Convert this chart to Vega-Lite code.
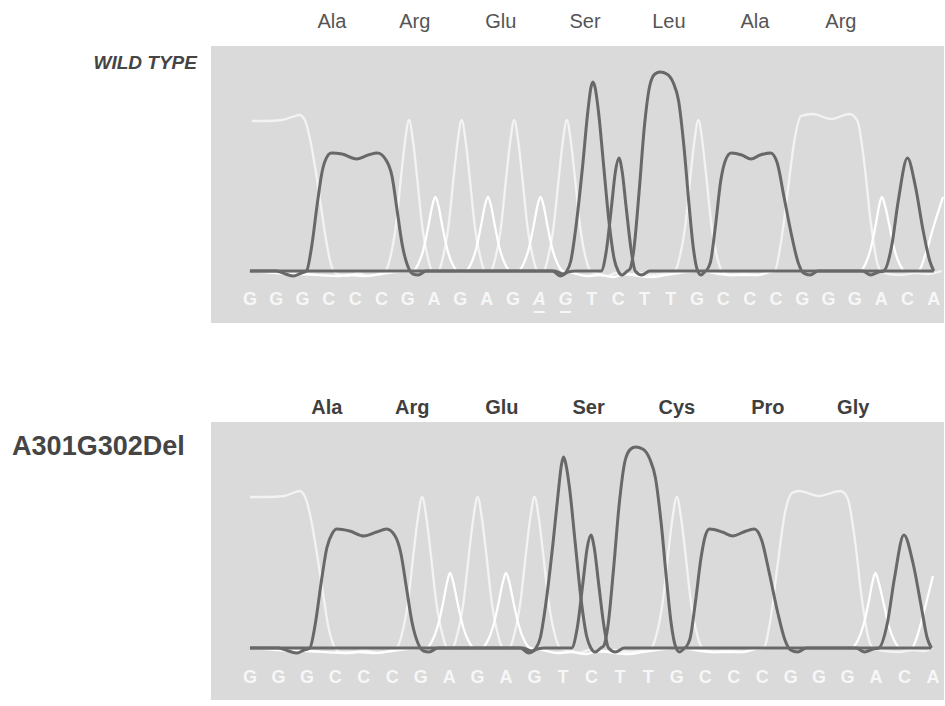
{
  "$schema": "https://vega.github.io/schema/vega-lite/v6.json",
  "autosize": {"type": "pad"},
  "padding": {"left": 12, "top": 12, "right": 0, "bottom": 6},
  "background": "#ffffff",
  "bounds": "flush",
  "spacing": 99,
  "config": {"view": {"fill": "#dadada", "stroke": null}, "font": "Liberation Sans"},
  "datasets": {
    "wt_traces": [
      {"base":"G","pos":0.08,"signal":150},{"base":"G","pos":0.6,"signal":150},{"base":"G","pos":1.2,"signal":151},{"base":"G","pos":1.6,"signal":154},{"base":"G","pos":1.9,"signal":156},{"base":"G","pos":2.1,"signal":150},{"base":"G","pos":2.3,"signal":130},{"base":"G","pos":2.5,"signal":100},{"base":"G","pos":2.7,"signal":65},{"base":"G","pos":2.9,"signal":30},{"base":"G","pos":3.1,"signal":5},{"base":"G","pos":3.3,"signal":-3},{"base":"G","pos":3.7,"signal":-5},{"base":"G","pos":4.1,"signal":-2},{"base":"G","pos":4.5,"signal":-5},{"base":"G","pos":4.9,"signal":-3},
      {"base":"G","pos":5.15,"signal":0},{"base":"G","pos":5.35,"signal":15},{"base":"G","pos":5.55,"signal":45},{"base":"G","pos":5.75,"signal":95},{"base":"G","pos":5.9,"signal":130},{"base":"G","pos":6.05,"signal":151},{"base":"G","pos":6.2,"signal":130},{"base":"G","pos":6.35,"signal":95},{"base":"G","pos":6.55,"signal":45},{"base":"G","pos":6.75,"signal":15},{"base":"G","pos":6.95,"signal":0},
      {"base":"G","pos":7.15,"signal":0},{"base":"G","pos":7.35,"signal":15},{"base":"G","pos":7.55,"signal":45},{"base":"G","pos":7.75,"signal":95},{"base":"G","pos":7.9,"signal":130},{"base":"G","pos":8.05,"signal":151},{"base":"G","pos":8.2,"signal":130},{"base":"G","pos":8.35,"signal":95},{"base":"G","pos":8.55,"signal":45},{"base":"G","pos":8.75,"signal":15},{"base":"G","pos":8.95,"signal":0},
      {"base":"G","pos":9.15,"signal":0},{"base":"G","pos":9.35,"signal":15},{"base":"G","pos":9.55,"signal":45},{"base":"G","pos":9.75,"signal":95},{"base":"G","pos":9.9,"signal":130},{"base":"G","pos":10.05,"signal":151},{"base":"G","pos":10.2,"signal":130},{"base":"G","pos":10.35,"signal":95},{"base":"G","pos":10.55,"signal":45},{"base":"G","pos":10.75,"signal":15},{"base":"G","pos":10.95,"signal":0},
      {"base":"G","pos":11.15,"signal":0},{"base":"G","pos":11.35,"signal":15},{"base":"G","pos":11.55,"signal":45},{"base":"G","pos":11.75,"signal":95},{"base":"G","pos":11.9,"signal":130},{"base":"G","pos":12.05,"signal":151},{"base":"G","pos":12.2,"signal":130},{"base":"G","pos":12.35,"signal":95},{"base":"G","pos":12.55,"signal":45},{"base":"G","pos":12.75,"signal":15},{"base":"G","pos":12.95,"signal":0},
      {"base":"G","pos":13.3,"signal":-3},{"base":"G","pos":13.6,"signal":-5},{"base":"G","pos":13.9,"signal":-2},{"base":"G","pos":14.3,"signal":-4},{"base":"G","pos":14.8,"signal":-2},{"base":"G","pos":15.3,"signal":-4},{"base":"G","pos":15.8,"signal":-2},{"base":"G","pos":16.15,"signal":0},
      {"base":"G","pos":16.35,"signal":15},{"base":"G","pos":16.55,"signal":45},{"base":"G","pos":16.75,"signal":95},{"base":"G","pos":16.9,"signal":130},{"base":"G","pos":17.05,"signal":151},{"base":"G","pos":17.2,"signal":130},{"base":"G","pos":17.35,"signal":95},{"base":"G","pos":17.55,"signal":45},{"base":"G","pos":17.75,"signal":15},{"base":"G","pos":17.95,"signal":0},
      {"base":"G","pos":18.3,"signal":-4},{"base":"G","pos":18.8,"signal":-3},{"base":"G","pos":19.3,"signal":-4},{"base":"G","pos":19.7,"signal":-1},{"base":"G","pos":19.95,"signal":0},
      {"base":"G","pos":20.2,"signal":30},{"base":"G","pos":20.45,"signal":80},{"base":"G","pos":20.7,"signal":130},{"base":"G","pos":20.95,"signal":155},{"base":"G","pos":21.4,"signal":157},{"base":"G","pos":22.1,"signal":152},{"base":"G","pos":22.8,"signal":157},{"base":"G","pos":23.1,"signal":150},{"base":"G","pos":23.35,"signal":110},{"base":"G","pos":23.6,"signal":50},{"base":"G","pos":23.85,"signal":8},{"base":"G","pos":24.0,"signal":0},{"base":"G","pos":24.3,"signal":-3},{"base":"G","pos":24.8,"signal":-4},{"base":"G","pos":25.3,"signal":-2},{"base":"G","pos":25.8,"signal":-3},{"base":"G","pos":26.3,"signal":0},

      {"base":"A","pos":0.0,"signal":0},{"base":"A","pos":1.0,"signal":-2},{"base":"A","pos":2.0,"signal":-3},{"base":"A","pos":3.3,"signal":-5},{"base":"A","pos":3.8,"signal":-4},{"base":"A","pos":4.4,"signal":-5},{"base":"A","pos":5.0,"signal":-3},{"base":"A","pos":5.5,"signal":-1},{"base":"A","pos":6.2,"signal":0},
      {"base":"A","pos":6.4,"signal":7},{"base":"A","pos":6.6,"signal":22},{"base":"A","pos":6.8,"signal":47},{"base":"A","pos":6.93,"signal":65},{"base":"A","pos":7.05,"signal":74},{"base":"A","pos":7.17,"signal":65},{"base":"A","pos":7.3,"signal":47},{"base":"A","pos":7.5,"signal":22},{"base":"A","pos":7.7,"signal":7},{"base":"A","pos":7.9,"signal":0},
      {"base":"A","pos":8.2,"signal":0},{"base":"A","pos":8.4,"signal":7},{"base":"A","pos":8.6,"signal":22},{"base":"A","pos":8.8,"signal":47},{"base":"A","pos":8.93,"signal":65},{"base":"A","pos":9.05,"signal":74},{"base":"A","pos":9.17,"signal":65},{"base":"A","pos":9.3,"signal":47},{"base":"A","pos":9.5,"signal":22},{"base":"A","pos":9.7,"signal":7},{"base":"A","pos":9.9,"signal":0},
      {"base":"A","pos":10.2,"signal":0},{"base":"A","pos":10.4,"signal":7},{"base":"A","pos":10.6,"signal":22},{"base":"A","pos":10.8,"signal":47},{"base":"A","pos":10.93,"signal":65},{"base":"A","pos":11.05,"signal":74},{"base":"A","pos":11.17,"signal":65},{"base":"A","pos":11.3,"signal":47},{"base":"A","pos":11.5,"signal":22},{"base":"A","pos":11.7,"signal":7},{"base":"A","pos":11.9,"signal":0},
      {"base":"A","pos":12.3,"signal":-2},{"base":"A","pos":12.8,"signal":-5},{"base":"A","pos":13.3,"signal":-4},{"base":"A","pos":13.8,"signal":-6},{"base":"A","pos":14.3,"signal":-3},{"base":"A","pos":14.8,"signal":-5},{"base":"A","pos":15.3,"signal":-6},{"base":"A","pos":15.8,"signal":-4},{"base":"A","pos":16.3,"signal":-2},{"base":"A","pos":17.0,"signal":0},{"base":"A","pos":18.3,"signal":-4},{"base":"A","pos":19.3,"signal":-4},{"base":"A","pos":20.0,"signal":0},{"base":"A","pos":22.0,"signal":0},
      {"base":"A","pos":23.2,"signal":0},{"base":"A","pos":23.4,"signal":7},{"base":"A","pos":23.6,"signal":22},{"base":"A","pos":23.8,"signal":47},{"base":"A","pos":23.92,"signal":65},{"base":"A","pos":24.03,"signal":74},{"base":"A","pos":24.15,"signal":65},{"base":"A","pos":24.3,"signal":47},{"base":"A","pos":24.5,"signal":22},{"base":"A","pos":24.7,"signal":7},{"base":"A","pos":24.9,"signal":0},
      {"base":"A","pos":25.4,"signal":0},{"base":"A","pos":25.7,"signal":18},{"base":"A","pos":26.0,"signal":45},{"base":"A","pos":26.35,"signal":74},

      {"base":"C","pos":0.0,"signal":0},{"base":"C","pos":1.0,"signal":0},{"base":"C","pos":1.35,"signal":-3},{"base":"C","pos":1.65,"signal":-5},{"base":"C","pos":1.95,"signal":-2},{"base":"C","pos":2.15,"signal":0},{"base":"C","pos":2.35,"signal":25},{"base":"C","pos":2.55,"signal":65},{"base":"C","pos":2.75,"signal":100},{"base":"C","pos":2.95,"signal":115},{"base":"C","pos":3.1,"signal":118},{"base":"C","pos":3.5,"signal":117},{"base":"C","pos":4.05,"signal":112},{"base":"C","pos":4.5,"signal":116},{"base":"C","pos":4.85,"signal":118},{"base":"C","pos":5.15,"signal":112},{"base":"C","pos":5.4,"signal":95},{"base":"C","pos":5.6,"signal":60},{"base":"C","pos":5.8,"signal":25},{"base":"C","pos":6.0,"signal":5},{"base":"C","pos":6.2,"signal":-3},{"base":"C","pos":6.4,"signal":-4},{"base":"C","pos":6.7,"signal":0},
      {"base":"C","pos":11.5,"signal":0},{"base":"C","pos":11.8,"signal":-5},{"base":"C","pos":12.1,"signal":-1},{"base":"C","pos":12.4,"signal":0},{"base":"C","pos":13.35,"signal":0},{"base":"C","pos":13.55,"signal":20},{"base":"C","pos":13.75,"signal":65},{"base":"C","pos":13.9,"signal":100},{"base":"C","pos":14.03,"signal":113},{"base":"C","pos":14.15,"signal":100},{"base":"C","pos":14.3,"signal":65},{"base":"C","pos":14.5,"signal":20},{"base":"C","pos":14.65,"signal":0},{"base":"C","pos":14.9,"signal":-4},{"base":"C","pos":15.2,"signal":0},
      {"base":"C","pos":17.3,"signal":0},{"base":"C","pos":17.5,"signal":8},{"base":"C","pos":17.7,"signal":45},{"base":"C","pos":17.9,"signal":90},{"base":"C","pos":18.1,"signal":112},{"base":"C","pos":18.3,"signal":118},{"base":"C","pos":18.7,"signal":116},{"base":"C","pos":19.05,"signal":112},{"base":"C","pos":19.4,"signal":116},{"base":"C","pos":19.8,"signal":118},{"base":"C","pos":20.05,"signal":108},{"base":"C","pos":20.3,"signal":75},{"base":"C","pos":20.6,"signal":35},{"base":"C","pos":20.85,"signal":8},{"base":"C","pos":21.05,"signal":-2},{"base":"C","pos":21.3,"signal":-4},{"base":"C","pos":21.6,"signal":0},
      {"base":"C","pos":23.3,"signal":0},{"base":"C","pos":23.6,"signal":-4},{"base":"C","pos":23.9,"signal":-1},{"base":"C","pos":24.1,"signal":0},{"base":"C","pos":24.4,"signal":25},{"base":"C","pos":24.65,"signal":70},{"base":"C","pos":25.0,"signal":113},{"base":"C","pos":25.3,"signal":85},{"base":"C","pos":25.6,"signal":40},{"base":"C","pos":25.85,"signal":10},{"base":"C","pos":26.0,"signal":0},

      {"base":"T","pos":0.0,"signal":0},{"base":"T","pos":11.6,"signal":0},{"base":"T","pos":11.9,"signal":-3},{"base":"T","pos":12.05,"signal":0},{"base":"T","pos":12.2,"signal":10},{"base":"T","pos":12.4,"signal":45},{"base":"T","pos":12.65,"signal":105},{"base":"T","pos":12.85,"signal":160},{"base":"T","pos":12.97,"signal":184},{"base":"T","pos":13.04,"signal":189},{"base":"T","pos":13.12,"signal":184},{"base":"T","pos":13.25,"signal":160},{"base":"T","pos":13.45,"signal":105},{"base":"T","pos":13.65,"signal":50},{"base":"T","pos":13.85,"signal":12},{"base":"T","pos":14.0,"signal":0},{"base":"T","pos":14.15,"signal":-4},{"base":"T","pos":14.35,"signal":0},
      {"base":"T","pos":14.45,"signal":2},{"base":"T","pos":14.6,"signal":22},{"base":"T","pos":14.8,"signal":80},{"base":"T","pos":15.0,"signal":145},{"base":"T","pos":15.2,"signal":185},{"base":"T","pos":15.4,"signal":197},{"base":"T","pos":15.6,"signal":199},{"base":"T","pos":15.85,"signal":197},{"base":"T","pos":16.1,"signal":188},{"base":"T","pos":16.3,"signal":170},{"base":"T","pos":16.5,"signal":125},{"base":"T","pos":16.7,"signal":65},{"base":"T","pos":16.85,"signal":25},{"base":"T","pos":17.0,"signal":2},{"base":"T","pos":17.15,"signal":-4},{"base":"T","pos":17.35,"signal":0},{"base":"T","pos":26.0,"signal":0}
    ],
    "mut_traces": [
      {"base":"G","pos":0.0,"signal":151},{"base":"G","pos":0.6,"signal":151},{"base":"G","pos":1.2,"signal":152},{"base":"G","pos":1.5,"signal":155},{"base":"G","pos":1.75,"signal":157},{"base":"G","pos":1.95,"signal":150},{"base":"G","pos":2.15,"signal":128},{"base":"G","pos":2.35,"signal":95},{"base":"G","pos":2.55,"signal":58},{"base":"G","pos":2.75,"signal":22},{"base":"G","pos":2.95,"signal":2},{"base":"G","pos":3.15,"signal":-4},{"base":"G","pos":3.6,"signal":-5},{"base":"G","pos":4.0,"signal":-2},{"base":"G","pos":4.5,"signal":-5},{"base":"G","pos":4.9,"signal":-3},
      {"base":"G","pos":5.15,"signal":0},{"base":"G","pos":5.35,"signal":15},{"base":"G","pos":5.55,"signal":45},{"base":"G","pos":5.75,"signal":95},{"base":"G","pos":5.9,"signal":130},{"base":"G","pos":6.05,"signal":151},{"base":"G","pos":6.2,"signal":130},{"base":"G","pos":6.35,"signal":95},{"base":"G","pos":6.55,"signal":45},{"base":"G","pos":6.75,"signal":15},{"base":"G","pos":6.95,"signal":0},
      {"base":"G","pos":7.1,"signal":0},{"base":"G","pos":7.3,"signal":15},{"base":"G","pos":7.5,"signal":45},{"base":"G","pos":7.7,"signal":95},{"base":"G","pos":7.85,"signal":130},{"base":"G","pos":8.0,"signal":151},{"base":"G","pos":8.15,"signal":130},{"base":"G","pos":8.3,"signal":95},{"base":"G","pos":8.5,"signal":45},{"base":"G","pos":8.7,"signal":15},{"base":"G","pos":8.9,"signal":0},
      {"base":"G","pos":9.1,"signal":0},{"base":"G","pos":9.3,"signal":15},{"base":"G","pos":9.5,"signal":45},{"base":"G","pos":9.7,"signal":95},{"base":"G","pos":9.85,"signal":130},{"base":"G","pos":10.0,"signal":151},{"base":"G","pos":10.15,"signal":130},{"base":"G","pos":10.3,"signal":95},{"base":"G","pos":10.5,"signal":45},{"base":"G","pos":10.7,"signal":15},{"base":"G","pos":10.9,"signal":0},
      {"base":"G","pos":11.3,"signal":-3},{"base":"G","pos":11.6,"signal":-5},{"base":"G","pos":11.9,"signal":-2},{"base":"G","pos":12.3,"signal":-4},{"base":"G","pos":12.8,"signal":-2},{"base":"G","pos":13.3,"signal":-4},{"base":"G","pos":13.8,"signal":-2},{"base":"G","pos":14.1,"signal":0},
      {"base":"G","pos":14.3,"signal":15},{"base":"G","pos":14.5,"signal":45},{"base":"G","pos":14.7,"signal":95},{"base":"G","pos":14.85,"signal":130},{"base":"G","pos":15.0,"signal":151},{"base":"G","pos":15.15,"signal":130},{"base":"G","pos":15.3,"signal":95},{"base":"G","pos":15.5,"signal":45},{"base":"G","pos":15.7,"signal":15},{"base":"G","pos":15.9,"signal":0},
      {"base":"G","pos":16.3,"signal":-4},{"base":"G","pos":16.8,"signal":-3},{"base":"G","pos":17.3,"signal":-4},{"base":"G","pos":17.7,"signal":-1},{"base":"G","pos":18.05,"signal":0},
      {"base":"G","pos":18.3,"signal":30},{"base":"G","pos":18.55,"signal":85},{"base":"G","pos":18.8,"signal":135},{"base":"G","pos":19.05,"signal":155},{"base":"G","pos":19.3,"signal":157},{"base":"G","pos":20.0,"signal":152},{"base":"G","pos":20.75,"signal":157},{"base":"G","pos":21.0,"signal":150},{"base":"G","pos":21.25,"signal":110},{"base":"G","pos":21.5,"signal":50},{"base":"G","pos":21.75,"signal":8},{"base":"G","pos":21.9,"signal":0},{"base":"G","pos":22.3,"signal":-3},{"base":"G","pos":22.8,"signal":-4},{"base":"G","pos":23.3,"signal":-2},{"base":"G","pos":23.7,"signal":-3},{"base":"G","pos":24.0,"signal":0},

      {"base":"A","pos":0.0,"signal":0},{"base":"A","pos":1.0,"signal":-2},{"base":"A","pos":2.0,"signal":-3},{"base":"A","pos":3.3,"signal":-5},{"base":"A","pos":3.8,"signal":-4},{"base":"A","pos":4.4,"signal":-5},{"base":"A","pos":5.0,"signal":-3},{"base":"A","pos":5.5,"signal":-1},{"base":"A","pos":6.2,"signal":0},
      {"base":"A","pos":6.4,"signal":7},{"base":"A","pos":6.6,"signal":22},{"base":"A","pos":6.8,"signal":47},{"base":"A","pos":6.92,"signal":65},{"base":"A","pos":7.03,"signal":75},{"base":"A","pos":7.15,"signal":65},{"base":"A","pos":7.28,"signal":47},{"base":"A","pos":7.48,"signal":22},{"base":"A","pos":7.68,"signal":7},{"base":"A","pos":7.88,"signal":0},
      {"base":"A","pos":8.15,"signal":0},{"base":"A","pos":8.35,"signal":7},{"base":"A","pos":8.55,"signal":22},{"base":"A","pos":8.75,"signal":47},{"base":"A","pos":8.88,"signal":65},{"base":"A","pos":9.0,"signal":75},{"base":"A","pos":9.12,"signal":65},{"base":"A","pos":9.25,"signal":47},{"base":"A","pos":9.45,"signal":22},{"base":"A","pos":9.65,"signal":7},{"base":"A","pos":9.85,"signal":0},
      {"base":"A","pos":10.3,"signal":-2},{"base":"A","pos":10.8,"signal":-5},{"base":"A","pos":11.3,"signal":-4},{"base":"A","pos":11.8,"signal":-6},{"base":"A","pos":12.3,"signal":-3},{"base":"A","pos":12.8,"signal":-5},{"base":"A","pos":13.3,"signal":-6},{"base":"A","pos":13.8,"signal":-4},{"base":"A","pos":14.3,"signal":-2},{"base":"A","pos":15.0,"signal":0},{"base":"A","pos":16.3,"signal":-4},{"base":"A","pos":17.3,"signal":-4},{"base":"A","pos":18.0,"signal":0},
      {"base":"A","pos":21.15,"signal":0},{"base":"A","pos":21.35,"signal":7},{"base":"A","pos":21.55,"signal":22},{"base":"A","pos":21.75,"signal":47},{"base":"A","pos":21.87,"signal":65},{"base":"A","pos":21.98,"signal":75},{"base":"A","pos":22.1,"signal":65},{"base":"A","pos":22.25,"signal":47},{"base":"A","pos":22.45,"signal":22},{"base":"A","pos":22.65,"signal":7},{"base":"A","pos":22.85,"signal":0},
      {"base":"A","pos":23.25,"signal":0},{"base":"A","pos":23.45,"signal":12},{"base":"A","pos":23.7,"signal":38},{"base":"A","pos":24.0,"signal":72},

      {"base":"C","pos":0.0,"signal":0},{"base":"C","pos":1.0,"signal":0},{"base":"C","pos":1.35,"signal":-3},{"base":"C","pos":1.65,"signal":-5},{"base":"C","pos":1.9,"signal":-2},{"base":"C","pos":2.1,"signal":0},{"base":"C","pos":2.3,"signal":25},{"base":"C","pos":2.5,"signal":65},{"base":"C","pos":2.7,"signal":100},{"base":"C","pos":2.9,"signal":115},{"base":"C","pos":3.05,"signal":119},{"base":"C","pos":3.5,"signal":117},{"base":"C","pos":4.0,"signal":112},{"base":"C","pos":4.45,"signal":116},{"base":"C","pos":4.8,"signal":119},{"base":"C","pos":5.1,"signal":112},{"base":"C","pos":5.3,"signal":95},{"base":"C","pos":5.5,"signal":60},{"base":"C","pos":5.7,"signal":25},{"base":"C","pos":5.9,"signal":5},{"base":"C","pos":6.1,"signal":-3},{"base":"C","pos":6.3,"signal":-4},{"base":"C","pos":6.6,"signal":0},
      {"base":"C","pos":9.5,"signal":0},{"base":"C","pos":9.8,"signal":-5},{"base":"C","pos":10.1,"signal":-1},{"base":"C","pos":10.4,"signal":0},{"base":"C","pos":11.3,"signal":0},{"base":"C","pos":11.5,"signal":20},{"base":"C","pos":11.7,"signal":65},{"base":"C","pos":11.85,"signal":100},{"base":"C","pos":11.98,"signal":113},{"base":"C","pos":12.1,"signal":100},{"base":"C","pos":12.25,"signal":65},{"base":"C","pos":12.45,"signal":20},{"base":"C","pos":12.6,"signal":0},{"base":"C","pos":12.85,"signal":-4},{"base":"C","pos":13.15,"signal":0},
      {"base":"C","pos":15.25,"signal":0},{"base":"C","pos":15.45,"signal":8},{"base":"C","pos":15.65,"signal":45},{"base":"C","pos":15.85,"signal":90},{"base":"C","pos":16.0,"signal":112},{"base":"C","pos":16.15,"signal":119},{"base":"C","pos":16.6,"signal":116},{"base":"C","pos":16.97,"signal":112},{"base":"C","pos":17.35,"signal":116},{"base":"C","pos":17.72,"signal":119},{"base":"C","pos":17.98,"signal":108},{"base":"C","pos":18.25,"signal":75},{"base":"C","pos":18.55,"signal":35},{"base":"C","pos":18.8,"signal":8},{"base":"C","pos":19.0,"signal":-2},{"base":"C","pos":19.25,"signal":-4},{"base":"C","pos":19.55,"signal":0},
      {"base":"C","pos":21.3,"signal":0},{"base":"C","pos":21.6,"signal":-4},{"base":"C","pos":21.9,"signal":-1},{"base":"C","pos":22.1,"signal":0},{"base":"C","pos":22.4,"signal":25},{"base":"C","pos":22.65,"signal":70},{"base":"C","pos":22.98,"signal":113},{"base":"C","pos":23.3,"signal":85},{"base":"C","pos":23.6,"signal":40},{"base":"C","pos":23.8,"signal":10},{"base":"C","pos":23.95,"signal":0},

      {"base":"T","pos":0.0,"signal":0},{"base":"T","pos":9.6,"signal":0},{"base":"T","pos":9.9,"signal":-3},{"base":"T","pos":10.05,"signal":0},{"base":"T","pos":10.2,"signal":10},{"base":"T","pos":10.4,"signal":45},{"base":"T","pos":10.65,"signal":105},{"base":"T","pos":10.85,"signal":160},{"base":"T","pos":10.95,"signal":184},{"base":"T","pos":11.02,"signal":191},{"base":"T","pos":11.1,"signal":184},{"base":"T","pos":11.23,"signal":160},{"base":"T","pos":11.43,"signal":105},{"base":"T","pos":11.63,"signal":50},{"base":"T","pos":11.83,"signal":12},{"base":"T","pos":11.98,"signal":0},{"base":"T","pos":12.13,"signal":-4},{"base":"T","pos":12.33,"signal":0},
      {"base":"T","pos":12.43,"signal":2},{"base":"T","pos":12.58,"signal":22},{"base":"T","pos":12.78,"signal":80},{"base":"T","pos":12.98,"signal":145},{"base":"T","pos":13.18,"signal":187},{"base":"T","pos":13.38,"signal":199},{"base":"T","pos":13.55,"signal":201},{"base":"T","pos":13.8,"signal":199},{"base":"T","pos":14.05,"signal":189},{"base":"T","pos":14.25,"signal":170},{"base":"T","pos":14.45,"signal":125},{"base":"T","pos":14.65,"signal":65},{"base":"T","pos":14.8,"signal":25},{"base":"T","pos":14.95,"signal":2},{"base":"T","pos":15.1,"signal":-4},{"base":"T","pos":15.3,"signal":0},{"base":"T","pos":23.95,"signal":0}
    ],
    "wt_seq": [
      {"pos":0,"nt":"G","deleted":false},{"pos":1,"nt":"G","deleted":false},{"pos":2,"nt":"G","deleted":false},{"pos":3,"nt":"C","deleted":false},{"pos":4,"nt":"C","deleted":false},{"pos":5,"nt":"C","deleted":false},{"pos":6,"nt":"G","deleted":false},{"pos":7,"nt":"A","deleted":false},{"pos":8,"nt":"G","deleted":false},{"pos":9,"nt":"A","deleted":false},{"pos":10,"nt":"G","deleted":false},{"pos":11,"nt":"A","deleted":true},{"pos":12,"nt":"G","deleted":true},{"pos":13,"nt":"T","deleted":false},{"pos":14,"nt":"C","deleted":false},{"pos":15,"nt":"T","deleted":false},{"pos":16,"nt":"T","deleted":false},{"pos":17,"nt":"G","deleted":false},{"pos":18,"nt":"C","deleted":false},{"pos":19,"nt":"C","deleted":false},{"pos":20,"nt":"C","deleted":false},{"pos":21,"nt":"G","deleted":false},{"pos":22,"nt":"G","deleted":false},{"pos":23,"nt":"G","deleted":false},{"pos":24,"nt":"A","deleted":false},{"pos":25,"nt":"C","deleted":false},{"pos":26,"nt":"A","deleted":false}
    ],
    "mut_seq": [
      {"pos":0,"nt":"G"},{"pos":1,"nt":"G"},{"pos":2,"nt":"G"},{"pos":3,"nt":"C"},{"pos":4,"nt":"C"},{"pos":5,"nt":"C"},{"pos":6,"nt":"G"},{"pos":7,"nt":"A"},{"pos":8,"nt":"G"},{"pos":9,"nt":"A"},{"pos":10,"nt":"G"},{"pos":11,"nt":"T"},{"pos":12,"nt":"C"},{"pos":13,"nt":"T"},{"pos":14,"nt":"T"},{"pos":15,"nt":"G"},{"pos":16,"nt":"C"},{"pos":17,"nt":"C"},{"pos":18,"nt":"C"},{"pos":19,"nt":"G"},{"pos":20,"nt":"G"},{"pos":21,"nt":"G"},{"pos":22,"nt":"A"},{"pos":23,"nt":"C"},{"pos":24,"nt":"A"}
    ],
    "wt_aa": [
      {"pos":3.12,"aa":"Ala"},{"pos":6.27,"aa":"Arg"},{"pos":9.54,"aa":"Glu"},{"pos":12.74,"aa":"Ser"},{"pos":15.93,"aa":"Leu"},{"pos":19.2,"aa":"Ala"},{"pos":22.47,"aa":"Arg"}
    ],
    "mut_aa": [
      {"pos":2.7,"aa":"Ala"},{"pos":5.7,"aa":"Arg"},{"pos":8.85,"aa":"Glu"},{"pos":11.9,"aa":"Ser"},{"pos":15.0,"aa":"Cys"},{"pos":18.2,"aa":"Pro"},{"pos":21.2,"aa":"Gly"}
    ],
    "wt_label": [{"sample": "WILD TYPE"}],
    "mut_label": [{"sample": "A301G302Del"}]
  },
  "vconcat": [
    {
      "width": 733,
      "height": 277,
      "layer": [
        {
          "data": {"name": "wt_traces"},
          "transform": [{"filter": "datum.base === 'G' || datum.base === 'A'"}],
          "mark": {"type": "line", "interpolate": "monotone", "strokeWidth": 2.3},
          "encoding": {
            "x": {"field": "pos", "type": "quantitative", "scale": {"domain": [-1.48, 26.39], "nice": false, "zero": false}, "axis": null},
            "y": {"field": "signal", "type": "quantitative", "scale": {"domain": [-52, 225], "nice": false, "zero": false}, "axis": null},
            "color": {"field": "base", "type": "nominal", "scale": {"domain": ["A", "C", "G", "T"], "range": ["#ffffff", "#686868", "#f3f3f3", "#686868"]}, "legend": null}
          }
        },
        {
          "data": {"name": "wt_traces"},
          "transform": [{"filter": "datum.base === 'C' || datum.base === 'T'"}],
          "mark": {"type": "line", "interpolate": "monotone", "strokeWidth": 3},
          "encoding": {
            "x": {"field": "pos", "type": "quantitative"},
            "y": {"field": "signal", "type": "quantitative", "axis": null},
            "color": {"field": "base", "type": "nominal", "legend": null}
          }
        },
        {
          "data": {"name": "wt_seq"},
          "transform": [{"filter": "!datum.deleted"}],
          "mark": {"type": "text", "font": "Liberation Sans", "fontWeight": "bold", "fontSize": 18, "color": "#f7f7f7", "baseline": "middle"},
          "encoding": {
            "x": {"field": "pos", "type": "quantitative"},
            "y": {"datum": -29, "type": "quantitative"},
            "text": {"field": "nt"}
          }
        },
        {
          "data": {"name": "wt_seq"},
          "transform": [{"filter": "datum.deleted"}],
          "mark": {"type": "text", "font": "Liberation Sans", "fontWeight": "bold", "fontStyle": "italic", "fontSize": 18, "color": "#f7f7f7", "baseline": "middle"},
          "encoding": {
            "x": {"field": "pos", "type": "quantitative"},
            "y": {"datum": -29, "type": "quantitative"},
            "text": {"field": "nt"}
          }
        },
        {
          "data": {"name": "wt_seq"},
          "transform": [{"filter": "datum.deleted"}],
          "mark": {"type": "tick", "orient": "horizontal", "size": 11, "thickness": 2, "color": "#f7f7f7", "opacity": 1},
          "encoding": {
            "x": {"field": "pos", "type": "quantitative"},
            "y": {"datum": -41, "type": "quantitative"}
          }
        },
        {
          "data": {"name": "wt_aa"},
          "mark": {"type": "text", "font": "Liberation Sans", "fontSize": 20, "color": "#555555", "baseline": "middle"},
          "encoding": {
            "x": {"field": "pos", "type": "quantitative"},
            "y": {"datum": 249, "type": "quantitative"},
            "text": {"field": "aa"}
          }
        },
        {
          "data": {"name": "wt_label"},
          "mark": {"type": "text", "font": "Liberation Sans", "fontSize": 19, "fontWeight": "bold", "fontStyle": "italic", "color": "#454545", "align": "right", "baseline": "middle"},
          "encoding": {
            "x": {"datum": -2.015, "type": "quantitative"},
            "y": {"datum": 208, "type": "quantitative"},
            "text": {"field": "sample"}
          }
        }
      ]
    },
    {
      "width": 733,
      "height": 278,
      "layer": [
        {
          "data": {"name": "mut_traces"},
          "transform": [{"filter": "datum.base === 'G' || datum.base === 'A'"}],
          "mark": {"type": "line", "interpolate": "monotone", "strokeWidth": 2.3},
          "encoding": {
            "x": {"field": "pos", "type": "quantitative", "scale": {"domain": [-1.37, 24.39], "nice": false, "zero": false}, "axis": null},
            "y": {"field": "signal", "type": "quantitative", "scale": {"domain": [-52, 226], "nice": false, "zero": false}, "axis": null},
            "color": {"field": "base", "type": "nominal", "scale": {"domain": ["A", "C", "G", "T"], "range": ["#ffffff", "#686868", "#f3f3f3", "#686868"]}, "legend": null}
          }
        },
        {
          "data": {"name": "mut_traces"},
          "transform": [{"filter": "datum.base === 'C' || datum.base === 'T'"}],
          "mark": {"type": "line", "interpolate": "monotone", "strokeWidth": 3},
          "encoding": {
            "x": {"field": "pos", "type": "quantitative"},
            "y": {"field": "signal", "type": "quantitative", "axis": null},
            "color": {"field": "base", "type": "nominal", "legend": null}
          }
        },
        {
          "data": {"name": "mut_seq"},
          "mark": {"type": "text", "font": "Liberation Sans", "fontWeight": "bold", "fontSize": 18, "color": "#f7f7f7", "baseline": "middle"},
          "encoding": {
            "x": {"field": "pos", "type": "quantitative"},
            "y": {"datum": -30, "type": "quantitative"},
            "text": {"field": "nt"}
          }
        },
        {
          "data": {"name": "mut_aa"},
          "mark": {"type": "text", "font": "Liberation Sans", "fontWeight": "bold", "fontSize": 20, "color": "#3f3f3f", "baseline": "middle"},
          "encoding": {
            "x": {"field": "pos", "type": "quantitative"},
            "y": {"datum": 240, "type": "quantitative"},
            "text": {"field": "aa"}
          }
        },
        {
          "data": {"name": "mut_label"},
          "mark": {"type": "text", "font": "Liberation Sans", "fontSize": 27, "fontWeight": "bold", "color": "#454545", "align": "left", "baseline": "middle"},
          "encoding": {
            "x": {"datum": -8.36, "type": "quantitative"},
            "y": {"datum": 201, "type": "quantitative"},
            "text": {"field": "sample"}
          }
        }
      ]
    }
  ]
}
